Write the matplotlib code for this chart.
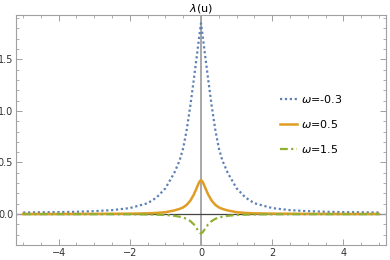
import numpy as np
import matplotlib
matplotlib.use("Agg")
import matplotlib.pyplot as plt
from matplotlib.ticker import MultipleLocator

# sample points (curves are symmetric about u=0)
u = [-5.0, -4.0, -3.5, -3.0, -2.5, -2.0, -1.5, -1.25, -1.0, -0.75, -0.6, -0.5, -0.4, -0.3, -0.2, -0.1, -0.05,
     0.0, 0.05, 0.1, 0.2, 0.3, 0.4, 0.5, 0.6, 0.75, 1.0, 1.25, 1.5, 2.0, 2.5, 3.0, 3.5, 4.0, 5.0]

lam_w_m03 = [0.015, 0.019, 0.022, 0.028, 0.038, 0.058, 0.105, 0.16, 0.25, 0.40, 0.52, 0.64, 0.82, 1.05, 1.31, 1.58, 1.72,
             1.85, 1.72, 1.58, 1.31, 1.05, 0.82, 0.64, 0.52, 0.40, 0.25, 0.16, 0.105, 0.058, 0.038, 0.028, 0.022, 0.019, 0.015]

lam_w_05 = [0.001, 0.001, 0.0015, 0.002, 0.003, 0.004, 0.007, 0.011, 0.018, 0.035, 0.05, 0.065, 0.09, 0.13, 0.19, 0.27, 0.31,
            0.33, 0.31, 0.27, 0.19, 0.13, 0.09, 0.065, 0.05, 0.035, 0.018, 0.011, 0.007, 0.004, 0.003, 0.002, 0.0015, 0.001, 0.001]

lam_w_15 = [-0.0005, -0.0005, -0.001, -0.001, -0.0015, -0.002, -0.004, -0.006, -0.009, -0.017, -0.026, -0.034, -0.047, -0.068, -0.10, -0.15, -0.175,
            -0.19, -0.175, -0.15, -0.10, -0.068, -0.047, -0.034, -0.026, -0.017, -0.009, -0.006, -0.004, -0.002, -0.0015, -0.001, -0.001, -0.0005, -0.0005]

labels = [r"$\omega$=-0.3", r"$\omega$=0.5", r"$\omega$=1.5"]

fig = plt.figure(figsize=(3.9, 2.6), dpi=100)
ax = fig.add_axes([16/390, 15/260, 370/390, 230/260])

# origin axes
ax.axvline(0, color="#9a9a9a", lw=1.2, zorder=1)
ax.axhline(0, color="#444444", lw=0.9, zorder=1)

ax.plot(u, lam_w_m03, color="#5e81b5", lw=1.6, linestyle=(0, (1, 1.2)), label=labels[0], zorder=3)
ax.plot(u, lam_w_05, color="#e19c24", lw=1.8, label=labels[1], zorder=3)
ax.plot(u, lam_w_15, color="#8fb032", lw=1.6, linestyle=(0, (3.5, 1.5, 1, 1.5)), label=labels[2], zorder=3)

ax.set_xlim(-5.2, 5.2)
ax.set_ylim(-0.30, 1.93)

ax.xaxis.set_major_locator(MultipleLocator(2))
ax.xaxis.set_minor_locator(MultipleLocator(0.5))
ax.yaxis.set_major_locator(MultipleLocator(0.5))
ax.yaxis.set_minor_locator(MultipleLocator(0.1))
ax.yaxis.set_major_formatter(matplotlib.ticker.FormatStrFormatter("%.1f"))

for s in ax.spines.values():
    s.set_color("#a0a0a0")
    s.set_linewidth(0.8)
ax.tick_params(which="both", direction="in", top=True, right=True, color="#a0a0a0",
               labelsize=7, labelcolor="#333333", pad=2)
ax.tick_params(which="major", length=4, width=0.7)
ax.tick_params(which="minor", length=2, width=0.6)

ax.set_title(r"$\lambda$(u)", fontsize=8, pad=2)

ax.legend(loc="upper left", bbox_to_anchor=(0.714, 0.66), frameon=False, fontsize=8,
          handlelength=1.5, handletextpad=0.4, labelspacing=1.15, borderpad=0, borderaxespad=0)

fig.savefig("out.png", dpi=100)
